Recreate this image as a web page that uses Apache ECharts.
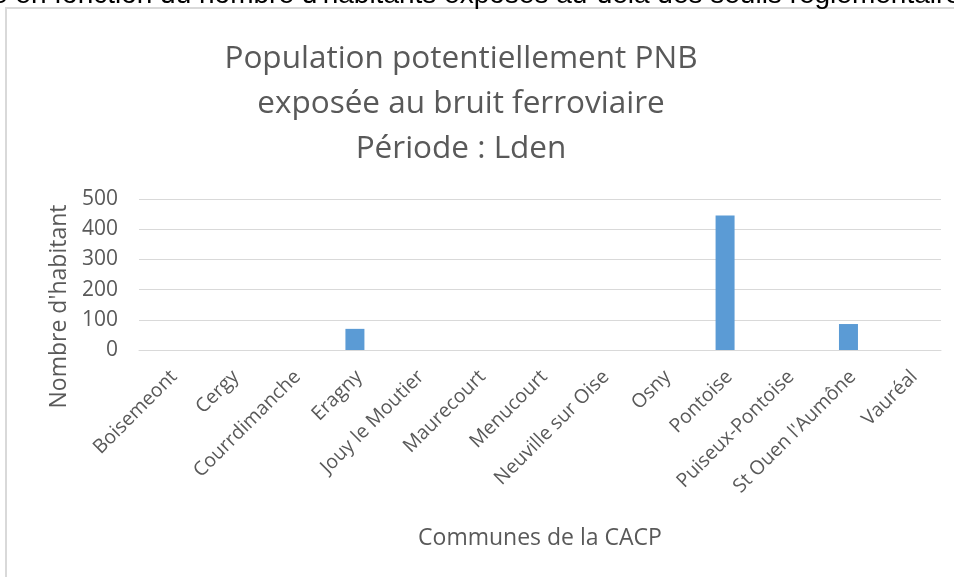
<!DOCTYPE html>
<html>
<head>
<meta charset="utf-8">
<script src="https://cdn.jsdelivr.net/npm/echarts@6/dist/echarts.min.js"></script>
<style>
  html, body { margin: 0; padding: 0; background: #ffffff; }
  #chart { width: 954px; height: 577px; }
</style>
</head>
<body>
<div id="chart"></div>
<script>
// Communes de la CACP
const communes = [
  'Boisemeont', 'Cergy', 'Courrdimanche', 'Eragny', 'Jouy le Moutier',
  'Maurecourt', 'Menucourt', 'Neuville sur Oise', 'Osny', 'Pontoise',
  'Puiseux-Pontoise', "St Ouen l'Aumône", 'Vauréal'
];
// Population exposée (Lden) par commune
const habitants = [0, 0, 0, 70, 0, 0, 0, 0, 0, 445, 0, 86, 0];
// Graduations de l'axe vertical
const yTicks = [0, 100, 200, 300, 400, 500];

const titleLines = [
  'Population potentiellement PNB',
  'exposée au bruit ferroviaire',
  'Période : Lden'
];
const headerLine = "e en fonction du nombre d'habitants exposés au-delà des seuils réglementaires";

const FONT = '"Open Sans", sans-serif';
const GREY = '#595959';

const chart = echarts.init(document.getElementById('chart'), null, { renderer: 'canvas' });

chart.setOption({
  backgroundColor: '#ffffff',
  animation: false,
  title: {
    text: titleLines.join('\n'),
    left: 456,
    textAlign: 'center',
    top: 32,
    textStyle: {
      fontFamily: FONT,
      fontSize: 31.5,
      fontWeight: 'normal',
      color: GREY,
      lineHeight: 45
    }
  },
  graphic: [
    {
      type: 'rect',
      shape: { x: 6, y: 8, width: 960, height: 580 },
      style: { fill: 'none', stroke: '#d9d9d9', lineWidth: 2 },
      silent: true
    },
    {
      type: 'text',
      x: -8,
      y: 9,
      style: {
        text: headerLine,
        font: '28px "Liberation Sans", Arial, sans-serif',
        fill: '#000000',
        textVerticalAlign: 'bottom'
      },
      silent: true
    }
  ],
  grid: {
    left: 139,
    right: 13,
    top: 199,
    bottom: 227,
    containLabel: false
  },
  xAxis: {
    type: 'category',
    data: communes,
    name: 'Communes de la CACP',
    nameLocation: 'middle',
    nameGap: 177,
    nameTextStyle: { fontFamily: FONT, fontSize: 23, color: GREY },
    axisLine: { show: true, lineStyle: { color: '#d9d9d9', width: 1 } },
    axisTick: { show: false },
    axisLabel: {
      interval: 0,
      rotate: 45,
      margin: 28,
      padding: [0, -6, 0, 0],
      fontFamily: FONT,
      fontSize: 19.5,
      color: GREY
    }
  },
  yAxis: {
    type: 'value',
    min: yTicks[0],
    max: yTicks[yTicks.length - 1],
    interval: yTicks[1] - yTicks[0],
    name: "Nombre d'habitant",
    nameLocation: 'middle',
    nameGap: 68,
    nameTextStyle: { fontFamily: FONT, fontSize: 23, color: GREY, padding: [0, 0, 0, -64] },
    axisLine: { show: false },
    axisTick: { show: false },
    splitLine: { lineStyle: { color: '#d9d9d9', width: 1 } },
    axisLabel: { margin: 21, fontFamily: FONT, fontSize: 21, color: GREY }
  },
  series: [
    {
      type: 'bar',
      data: habitants,
      barWidth: 19,
      itemStyle: { color: '#5b9bd5' }
    }
  ]
});
</script>
</body>
</html>
